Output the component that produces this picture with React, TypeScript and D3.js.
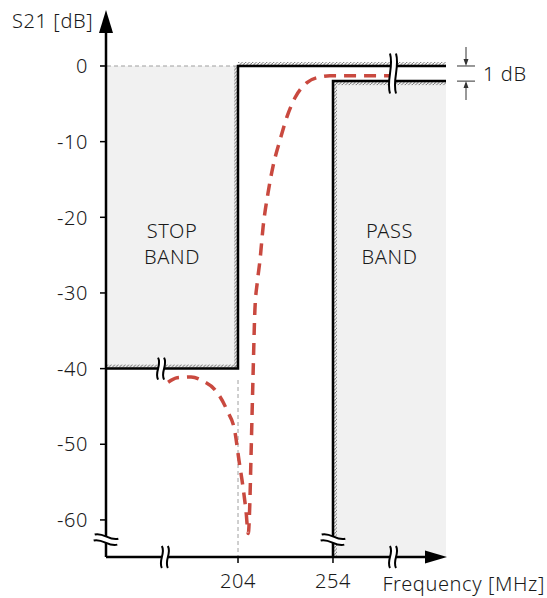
import React from 'react';
import * as d3 from 'd3';

// axis ticks
const yTicks = [0, -10, -20, -30, -40, -50, -60];
const xTicks = [204, 254];

// filter mask (schematic)
const stopEdge = 204;
const stopLevel = -40;
const passEdge = 254;
const passLevel = -2; // drawn 1 dB below 0

// measured S21 response
const freq = [167.2, 172, 179.3, 186, 191.9, 198.2, 202.4, 204.5, 206.6, 208.2, 209.4, 210.2, 210.8, 211.9, 212.9, 214.2, 215.6, 217.2, 219.8, 222.4, 226.1, 229.8, 234, 240.3, 247.2, 252.4, 285.6];
const s21 = [-41.8, -41.2, -41.1, -41.7, -42.8, -45.5, -48.4, -52.1, -55.6, -58.8, -61.8, -58, -52.1, -41.1, -32.2, -28.5, -25.6, -21.3, -16.8, -13.3, -9.8, -6.7, -4.2, -2.2, -1.45, -1.3, -1.3];

// break marks
const xAxisBreaks = [165.5, 285.6];
const yAxisBreak = -62.6;

const W = 547;
const H = 598;

const BreakMark = ({ cx, cy, len, angle }: { cx: number; cy: number; len: number; angle: number }) => {
  const g = 3;
  const a = 4;
  const y0 = -len / 2;
  const y1 = len / 2;
  const wave = (x: number) => `M ${x} ${y0} C ${x + a} ${y0 + len * 0.35}, ${x - a} ${y0 + len * 0.65}, ${x} ${y1}`;
  const fill = `M ${-g} ${y0} C ${-g + a} ${y0 + len * 0.35}, ${-g - a} ${y0 + len * 0.65}, ${-g} ${y1} L ${g} ${y1} C ${g - a} ${y0 + len * 0.65}, ${g + a} ${y0 + len * 0.35}, ${g} ${y0} Z`;
  return (
    <g transform={`translate(${cx},${cy}) rotate(${angle})`}>
      <path d={fill} fill="#fff" stroke="none" />
      <path d={wave(-g)} fill="none" stroke="#000" strokeWidth={2} />
      <path d={wave(g)} fill="none" stroke="#000" strokeWidth={2} />
    </g>
  );
};

export default function App() {
  const x = d3.scaleLinear().domain([134.5, 313.5]).range([106, 446]);
  const y = d3.scaleLinear().domain([-64.9, 7.4]).range([557, 10]);

  const x0 = x(134.5);
  const xEnd = x(313.5);
  const yBase = y(-64.9);

  const line = d3
    .line<number>()
    .x((_, i) => x(freq[i]))
    .y((d) => y(d))
    .curve(d3.curveMonotoneX);

  const textStyle = {
    fontFamily: '"Noto Sans", "Open Sans", sans-serif',
    fontSize: 20,
    fontWeight: 300,
    letterSpacing: 0.6,
    fill: '#1a1a1a',
  };
  const hs = 4; // hatch strip width

  return (
    <svg width={W} height={H} style={{ position: 'absolute', left: 0, top: 0 }}>
      <defs>
        <pattern id="hatch" width={3.5} height={3.5} patternUnits="userSpaceOnUse">
          <path d="M -1 4.5 L 4.5 -1" stroke="#707070" strokeWidth={0.9} />
        </pattern>
      </defs>

      {/* shaded bands */}
      <rect x={x0} y={y(0)} width={x(stopEdge) - x0} height={y(stopLevel) - y(0)} fill="#f1f1f1" />
      <rect x={x(passEdge)} y={y(passLevel)} width={xEnd - x(passEdge)} height={yBase - y(passLevel)} fill="#f1f1f1" />

      {/* hatching */}
      <rect x={x(stopEdge)} y={y(0) - hs} width={xEnd - x(stopEdge)} height={hs} fill="url(#hatch)" />
      <rect x={x(stopEdge) - hs} y={y(0)} width={hs} height={y(stopLevel) - y(0)} fill="url(#hatch)" />
      <rect x={x0} y={y(stopLevel) - hs} width={x(stopEdge) - x0} height={hs} fill="url(#hatch)" />
      <rect x={x(passEdge)} y={y(passLevel)} width={hs} height={yBase - y(passLevel)} fill="url(#hatch)" />
      <rect x={x(passEdge)} y={y(passLevel)} width={xEnd - x(passEdge)} height={hs} fill="url(#hatch)" />

      {/* guide lines */}
      <line x1={x0 - 6} x2={x(stopEdge)} y1={y(0)} y2={y(0)} stroke="#a0a0a0" strokeWidth={1.2} strokeDasharray="4 3" />
      <line x1={x(stopEdge)} x2={x(stopEdge)} y1={y(-41.5)} y2={yBase} stroke="#b0b0b0" strokeWidth={1.2} strokeDasharray="4 3" />

      {/* mask outlines */}
      <path
        d={`M ${x0} ${y(stopLevel)} H ${x(stopEdge)} V ${y(0)} H ${xEnd}`}
        fill="none"
        stroke="#000"
        strokeWidth={2.5}
      />
      <path d={`M ${x(passEdge)} ${yBase} V ${y(passLevel)} H ${xEnd}`} fill="none" stroke="#000" strokeWidth={2.5} />

      {/* response curve */}
      <path d={line(s21) || ''} fill="none" stroke="#c9493f" strokeWidth={3.5} strokeDasharray="12 8" />

      {/* axes */}
      <line x1={x0} x2={x0} y1={yBase} y2={30} stroke="#000" strokeWidth={2.5} />
      <path d={`M ${x0} 10 L ${x0 + 7} 33 L ${x0 - 7} 33 Z`} fill="#000" />
      <line x1={x0} x2={426} y1={yBase} y2={yBase} stroke="#000" strokeWidth={2.5} />
      <path d={`M 447 ${yBase} L 425 ${yBase - 6.5} L 425 ${yBase + 6.5} Z`} fill="#000" />

      {yTicks.map((t) => (
        <g key={t}>
          <line x1={x0 - 6} x2={x0} y1={y(t)} y2={y(t)} stroke="#000" strokeWidth={1.5} />
          <text x={x0 - 18} y={y(t)} dy="0.36em" textAnchor="end" style={textStyle}>
            {t}
          </text>
        </g>
      ))}
      {xTicks.map((t) => (
        <g key={t}>
          <line x1={x(t)} x2={x(t)} y1={yBase} y2={yBase + 6} stroke="#000" strokeWidth={1.5} />
          <text x={x(t)} y={588} textAnchor="middle" style={textStyle}>
            {t}
          </text>
        </g>
      ))}

      {/* break marks */}
      {xAxisBreaks.map((b) => (
        <BreakMark key={b} cx={x(b)} cy={yBase} len={22} angle={0} />
      ))}
      <BreakMark cx={x0} cy={y(yAxisBreak)} len={24} angle={-80} />
      <BreakMark cx={x(passEdge)} cy={y(yAxisBreak)} len={24} angle={-80} />
      <BreakMark cx={x(163.5)} cy={y(stopLevel)} len={22} angle={0} />
      <BreakMark cx={x(285.6)} cy={(y(0) + y(passLevel)) / 2} len={40} angle={0} />

      {/* 1 dB annotation */}
      <g stroke="#333" strokeWidth={1}>
        <line x1={457} x2={475} y1={y(0)} y2={y(0)} />
        <line x1={457} x2={475} y1={y(passLevel)} y2={y(passLevel)} />
        <line x1={466} x2={466} y1={47} y2={y(0) - 2} />
        <line x1={466} x2={466} y1={y(passLevel) + 2} y2={100} />
      </g>
      <path d={`M 466 ${y(0)} L 463.5 ${y(0) - 7} L 468.5 ${y(0) - 7} Z`} fill="#333" />
      <path d={`M 466 ${y(passLevel)} L 463.5 ${y(passLevel) + 7} L 468.5 ${y(passLevel) + 7} Z`} fill="#333" />
      <text x={483} y={(y(0) + y(passLevel)) / 2} dy="0.36em" style={textStyle}>
        1 dB
      </text>

      {/* labels */}
      <text x={12} y={28} style={textStyle}>
        S21 [dB]
      </text>
      <text x={545} y={591} textAnchor="end" style={textStyle}>
        Frequency [MHz]
      </text>
      <text x={(x0 + x(stopEdge)) / 2} y={238} textAnchor="middle" style={textStyle}>
        STOP
      </text>
      <text x={(x0 + x(stopEdge)) / 2} y={264} textAnchor="middle" style={textStyle}>
        BAND
      </text>
      <text x={(x(passEdge) + xEnd) / 2} y={238} textAnchor="middle" style={textStyle}>
        PASS
      </text>
      <text x={(x(passEdge) + xEnd) / 2} y={264} textAnchor="middle" style={textStyle}>
        BAND
      </text>
    </svg>
  );
}
